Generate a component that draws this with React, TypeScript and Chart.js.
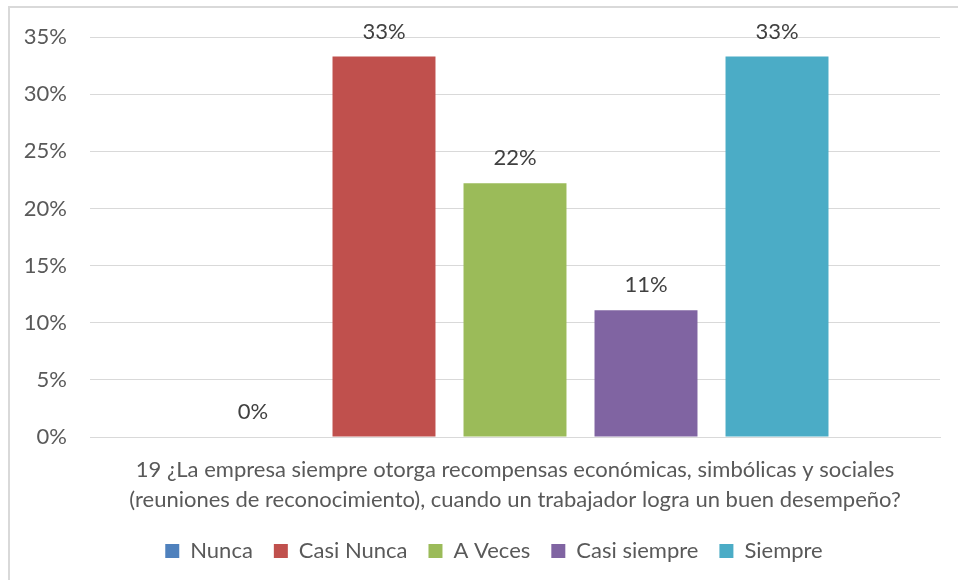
import React, { useEffect, useRef } from "react";
import { Chart, registerables } from "chart.js";

Chart.register(...registerables);

const categories = [
  ["19 ¿La empresa siempre otorga recompensas económicas, simbólicas y sociales", "(reuniones de reconocimiento), cuando un trabajador logra un buen desempeño?"],
];
const seriesNames = ["Nunca", "Casi Nunca", "A Veces", "Casi siempre", "Siempre"];
const seriesValues = [0, 33.3, 22.2, 11.1, 33.3];
const seriesColors = ["#4F81BD", "#C0504D", "#9BBB59", "#8064A2", "#4BACC6"];
const yTicks = [0, 5, 10, 15, 20, 25, 30, 35];

const FONT = "Lato, 'Open Sans', sans-serif";
const FS = 22;

const labelPlugin = {
  id: "barLabels",
  afterDatasetsDraw(chart: any) {
    const ctx = chart.ctx;
    ctx.save();
    ctx.font = `${FS}px ${FONT}`;
    ctx.fillStyle = "#404040";
    ctx.textAlign = "center";
    ctx.textBaseline = "middle";
    chart.data.datasets.forEach((ds: any, i: number) => {
      const meta = chart.getDatasetMeta(i);
      meta.data.forEach((bar: any, j: number) => {
        const v = ds.data[j];
        ctx.fillText(Math.round(v) + "%", bar.x, bar.y - 25);
      });
    });
    ctx.restore();
  },
};

const framePlugin = {
  id: "frame",
  beforeDraw(chart: any) {
    const ctx = chart.ctx;
    ctx.save();
    ctx.fillStyle = "#ffffff";
    ctx.fillRect(0, 0, chart.width, chart.height);
    ctx.strokeStyle = "#d9d9d9";
    ctx.lineWidth = 2;
    ctx.beginPath();
    ctx.moveTo(9, chart.height + 5);
    ctx.lineTo(9, 7);
    ctx.lineTo(chart.width + 5, 7);
    ctx.stroke();
    ctx.restore();
  },
};

const legendShift = {
  id: "legendShift",
  afterLayout(chart: any) {
    const lg = chart.legend;
    if (lg) {
      lg.left += 19;
      lg.right += 19;
    }
  },
};

export default function App() {
  const ref = useRef<HTMLCanvasElement>(null);
  useEffect(() => {
    document.body.style.margin = "0";
    const chart = new Chart(ref.current!, {
      type: "bar",
      data: {
        labels: categories as any,
        datasets: seriesNames.map((n, i) => ({
          label: n,
          data: [seriesValues[i]],
          backgroundColor: seriesColors[i],
          categoryPercentage: 0.7706,
          barPercentage: 0.786,
        })),
      },
      options: {
        animation: false,
        responsive: false,
        layout: { padding: { top: 37, right: 18, left: 10, bottom: 8 } },
        plugins: {
          legend: {
            position: "bottom",
            labels: {
              font: { family: FONT, size: FS },
              color: "#595959",
              boxWidth: 14,
              boxHeight: 14,
              padding: 21,
            },
          },
          tooltip: { enabled: false },
        },
        scales: {
          x: {
            grid: { display: false },
            border: { color: "#d9d9d9" },
            ticks: {
              font: { family: FONT, size: FS, lineHeight: 1.36 },
              color: "#595959",
              padding: 10,
              maxRotation: 0,
            },
            afterFit(scale: any) {
              scale.height = 82;
            },
          },
          y: {
            min: 0,
            max: 35,
            afterBuildTicks(scale: any) {
              scale.ticks = yTicks.map((v) => ({ value: v }));
            },
            grid: { color: "#d9d9d9", drawTicks: false },
            border: { display: false },
            ticks: {
              font: { family: FONT, size: FS },
              color: "#595959",
              padding: 23,
              callback: (v: any) => v + "%",
            },
            afterFit(scale: any) {
              scale.width = 80;
            },
          },
        },
      },
      plugins: [framePlugin, labelPlugin, legendShift],
    });
    return () => chart.destroy();
  }, []);
  return (
    <div style={{ width: 958, height: 580 }}>
      <canvas ref={ref} width={958} height={580} />
    </div>
  );
}
